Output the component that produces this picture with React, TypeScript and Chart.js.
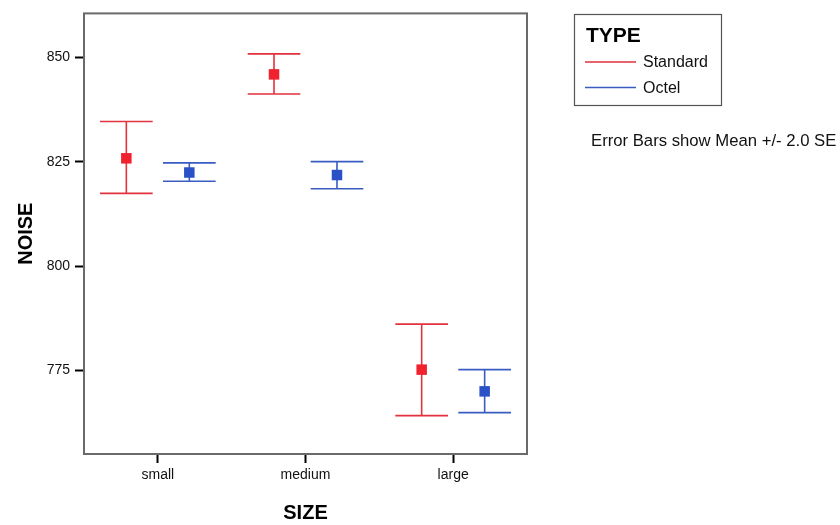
import { useEffect, useRef } from "react";
import { Chart, registerables } from "chart.js";

Chart.register(...registerables);

// ---- data ----
const categories = ["small", "medium", "large"];
const seriesNames = ["Standard", "Octel"];
const standardMean = [825.8, 845.9, 775.2];
const standardLower = [817.4, 841.2, 764.2];
const standardUpper = [834.6, 850.8, 786.1];
const octelMean = [822.4, 821.8, 770.0];
const octelLower = [820.3, 818.5, 764.9];
const octelUpper = [824.7, 825.0, 775.2];
const yTicks = [775, 800, 825, 850];
const yMin = 755;
const yMax = 860.5;
const xTitle = "SIZE";
const yTitle = "NOISE";
const legendTitle = "TYPE";
const noteText = "Error Bars show Mean +/- 2.0 SE";

// ---- styles ----
const lineColors = ["#e2323e", "#3a5cc2"];
const markColors = ["#f0222e", "#2a52c6"];
const FONT = "Arial, 'Liberation Sans', sans-serif";

const errorBarPlugin = {
  id: "errorBars",
  afterDatasetsDraw(chart: any) {
    const { ctx } = chart;
    const y = chart.scales.y;
    chart.data.datasets.forEach((ds: any, i: number) => {
      const meta = chart.getDatasetMeta(i);
      meta.data.forEach((bar: any, j: number) => {
        const { x, width } = bar.getProps(["x", "width"], true);
        const yHi = y.getPixelForValue(ds.upper[j]);
        const yLo = y.getPixelForValue(ds.lower[j]);
        const yM = y.getPixelForValue(ds.mean[j]);
        ctx.save();
        ctx.strokeStyle = ds.lineColor;
        ctx.lineWidth = 1.6;
        ctx.beginPath();
        ctx.moveTo(x, yHi);
        ctx.lineTo(x, yLo);
        ctx.moveTo(x - width / 2, yHi);
        ctx.lineTo(x + width / 2, yHi);
        ctx.moveTo(x - width / 2, yLo);
        ctx.lineTo(x + width / 2, yLo);
        ctx.stroke();
        ctx.fillStyle = ds.markColor;
        const s = 10.5;
        ctx.fillRect(x - s / 2, yM - s / 2, s, s);
        ctx.restore();
      });
    });
  },
};

const framePlugin = {
  id: "frame",
  afterDraw(chart: any) {
    const { ctx, chartArea } = chart;
    ctx.save();
    ctx.strokeStyle = "#6a6a6a";
    ctx.lineWidth = 2;
    ctx.strokeRect(chartArea.left, chartArea.top, chartArea.right - chartArea.left, chartArea.bottom - chartArea.top);

    // legend box
    ctx.strokeStyle = "#555555";
    ctx.lineWidth = 1.2;
    ctx.strokeRect(574.5, 14.5, 147, 91);
    ctx.fillStyle = "#000";
    ctx.textBaseline = "alphabetic";
    ctx.textAlign = "left";
    ctx.font = `bold 21px ${FONT}`;
    ctx.fillText(legendTitle, 586, 41.5);
    ctx.font = `16px ${FONT}`;
    ctx.textBaseline = "middle";
    const rows = [62, 87.5];
    seriesNames.forEach((name, i) => {
      ctx.strokeStyle = lineColors[i];
      ctx.lineWidth = 1.3;
      ctx.beginPath();
      ctx.moveTo(585, rows[i]);
      ctx.lineTo(636, rows[i]);
      ctx.stroke();
      ctx.fillStyle = "#111";
      ctx.fillText(name, 643, rows[i] + 1);
    });
    ctx.font = `16.7px ${FONT}`;
    ctx.fillText(noteText, 591, 141);
    ctx.restore();
  },
};

export default function App() {
  const ref = useRef<HTMLCanvasElement | null>(null);
  useEffect(() => {
    if (!ref.current) return;
    const means = [standardMean, octelMean];
    const lowers = [standardLower, octelLower];
    const uppers = [standardUpper, octelUpper];
    const chart = new Chart(ref.current, {
      type: "bar",
      data: {
        labels: categories,
        datasets: seriesNames.map((name, i) => ({
          label: name,
          data: lowers[i].map((lo, j) => [lo, uppers[i][j]]),
          backgroundColor: "rgba(0,0,0,0)",
          borderWidth: 0,
          categoryPercentage: 0.853,
          barPercentage: 0.836,
          mean: means[i],
          lower: lowers[i],
          upper: uppers[i],
          lineColor: lineColors[i],
          markColor: markColors[i],
        })) as any,
      },
      options: {
        responsive: false,
        animation: false,
        layout: { padding: { left: 0, top: 12, right: 313, bottom: 0 } },
        plugins: {
          legend: { display: false },
          tooltip: { enabled: false },
        },
        scales: {
          x: {
            offset: true,
            grid: {
              offset: false,
              drawOnChartArea: false,
              drawTicks: true,
              tickLength: 9,
              tickWidth: 2,
              tickColor: "#000",
            },
            border: { display: false },
            ticks: { color: "#111", font: { family: FONT, size: 14 }, padding: 4 },
            title: {
              display: true,
              text: xTitle,
              color: "#000",
              font: { family: FONT, size: 20, weight: "bold" },
              padding: { top: 5, bottom: 0 },
            },
            afterFit(scale: any) {
              scale.height = 71;
            },
          },
          y: {
            min: yMin,
            max: yMax,
            grid: {
              drawOnChartArea: false,
              drawTicks: true,
              tickLength: 9,
              tickWidth: 2,
              tickColor: "#000",
            },
            border: { display: false },
            ticks: { color: "#111", font: { family: FONT, size: 14 }, padding: 5 },
            afterBuildTicks(scale: any) {
              scale.ticks = yTicks.map((v) => ({ value: v }));
            },
            title: {
              display: true,
              text: yTitle,
              color: "#000",
              font: { family: FONT, size: 20, weight: "bold" },
              padding: { top: 14, bottom: 0 },
            },
            afterFit(scale: any) {
              scale.width = 84;
            },
          },
        },
      },
      plugins: [errorBarPlugin, framePlugin],
    });
    return () => chart.destroy();
  }, []);
  return (
    <div style={{ position: "fixed", left: 0, top: 0, width: 840, height: 525, background: "#fff" }}>
      <canvas ref={ref} width={840} height={525} style={{ display: "block" }} />
    </div>
  );
}
